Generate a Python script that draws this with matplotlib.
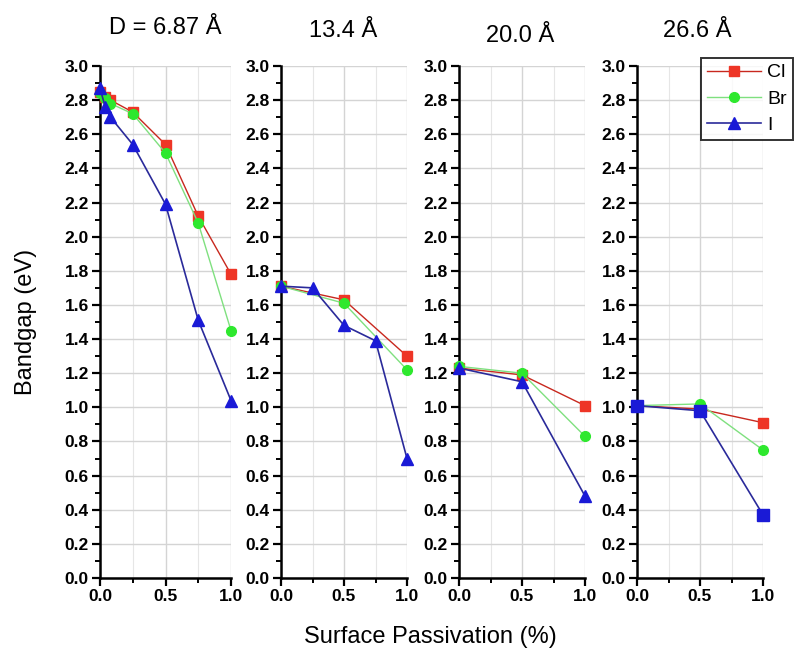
import matplotlib.pyplot as plt
from matplotlib.ticker import MultipleLocator
from matplotlib.lines import Line2D

plt.rcParams['font.family'] = ['Liberation Sans', 'DejaVu Sans']

titles = ['D = 6.87 Å', '13.4 Å', '20.0 Å', '26.6 Å']
series = ['Cl', 'Br', 'I']

# panel 1: D = 6.87 A
x1 = [0, 0.04, 0.08, 0.25, 0.5, 0.75, 1.0]
cl1 = [2.85, 2.82, 2.80, 2.73, 2.54, 2.12, 1.78]
br1 = [2.84, 2.81, 2.78, 2.72, 2.49, 2.08, 1.45]
i1 = [2.87, 2.76, 2.70, 2.54, 2.19, 1.51, 1.04]

# panel 2: 13.4 A
x2 = [0, 0.5, 1.0]
x2_i = [0, 0.25, 0.5, 0.75, 1.0]
cl2 = [1.71, 1.63, 1.30]
br2 = [1.71, 1.61, 1.22]
i2 = [1.71, 1.70, 1.48, 1.39, 0.70]

# panel 3: 20.0 A
x3 = [0, 0.5, 1.0]
cl3 = [1.23, 1.19, 1.01]
br3 = [1.24, 1.20, 0.83]
i3 = [1.23, 1.15, 0.48]

# panel 4: 26.6 A
x4 = [0, 0.5, 1.0]
cl4 = [1.01, 0.99, 0.91]
br4 = [1.01, 1.02, 0.75]
i4 = [1.01, 0.98, 0.37]

panels = [
    (x1, cl1, x1, br1, x1, i1, '^'),
    (x2, cl2, x2, br2, x2_i, i2, '^'),
    (x3, cl3, x3, br3, x3, i3, '^'),
    (x4, cl4, x4, br4, x4, i4, 's'),
]

red_m, red_l = '#ee3526', '#c8281e'
grn_m, grn_l = '#2ee82e', '#7fe07f'
blu_m, blu_l = '#1a1ad6', '#2a2a9a'

W, H = 795, 653
fig = plt.figure(figsize=(7.95, 6.53), dpi=100)

lefts = [100, 281, 459, 637]
widths = [131, 126, 126, 126]
y0, y1 = 578, 66
title_pos = [(165, 28), (343, 31), (520, 36), (697, 31)]

for k, (xc, yc, xb, yb, xi, yi, imark) in enumerate(panels):
    ax = fig.add_axes([lefts[k] / W, 1 - y0 / H, widths[k] / W, (y0 - y1) / H])
    ax.plot(xc, yc, '-', color=red_l, lw=1.0, marker='s', ms=7,
            mfc=red_m, mec=red_m, clip_on=False, zorder=3)
    ax.plot(xb, yb, '-', color=grn_l, lw=1.0, marker='o', ms=7,
            mfc=grn_m, mec=grn_m, clip_on=False, zorder=3)
    ax.plot(xi, yi, '-', color=blu_l, lw=1.2, marker=imark, ms=8,
            mfc=blu_m, mec=blu_m, clip_on=False, zorder=4)
    ax.set_xlim(0, 1.0)
    ax.set_ylim(0, 3.0)
    ax.xaxis.set_major_locator(MultipleLocator(0.5))
    ax.xaxis.set_minor_locator(MultipleLocator(0.25))
    ax.yaxis.set_major_locator(MultipleLocator(0.2))
    ax.yaxis.set_minor_locator(MultipleLocator(0.1))
    ax.xaxis.set_major_formatter(plt.FormatStrFormatter('%.1f'))
    ax.yaxis.set_major_formatter(plt.FormatStrFormatter('%.1f'))
    for s in ['top', 'right']:
        ax.spines[s].set_visible(False)
    for s in ['left', 'bottom']:
        ax.spines[s].set_linewidth(1.8)
    ax.tick_params(which='major', length=6, width=1.6, labelsize=12.5, direction='out', pad=2)
    ax.tick_params(which='minor', length=3.5, width=1.4, direction='out')
    for lab in ax.get_xticklabels() + ax.get_yticklabels():
        lab.set_fontweight('bold')
    ax.grid(True, which='major', color='#d4d4d4', lw=1.0)
    ax.grid(True, which='minor', axis='x', color='#e6e6e6', lw=0.8)
    ax.set_axisbelow(True)
    fig.text(title_pos[k][0] / W, 1 - title_pos[k][1] / H, titles[k],
             ha='center', va='center', fontsize=17)

handles = [
    Line2D([], [], color=red_l, lw=1.0, marker='s', ms=7, mfc=red_m, mec=red_m),
    Line2D([], [], color=grn_l, lw=1.0, marker='o', ms=7, mfc=grn_m, mec=grn_m),
    Line2D([], [], color=blu_l, lw=1.2, marker='^', ms=8, mfc=blu_m, mec=blu_m),
]
leg = fig.legend(handles, series, loc='upper left',
                 bbox_to_anchor=(701 / W, 1 - 58 / H), fontsize=14,
                 frameon=True, fancybox=False, edgecolor='black',
                 handlelength=2.8, handletextpad=0.3, borderpad=0.3,
                 labelspacing=0.45, borderaxespad=0)
leg.get_frame().set_linewidth(1.4)

fig.text(26 / W, 1 - 322 / H, 'Bandgap (eV)', rotation=90,
         ha='center', va='center', fontsize=17)
fig.text(430 / W, 1 - 637 / H, 'Surface Passivation (%)',
         ha='center', va='center', fontsize=17)

fig.savefig('out.png', dpi=100)
